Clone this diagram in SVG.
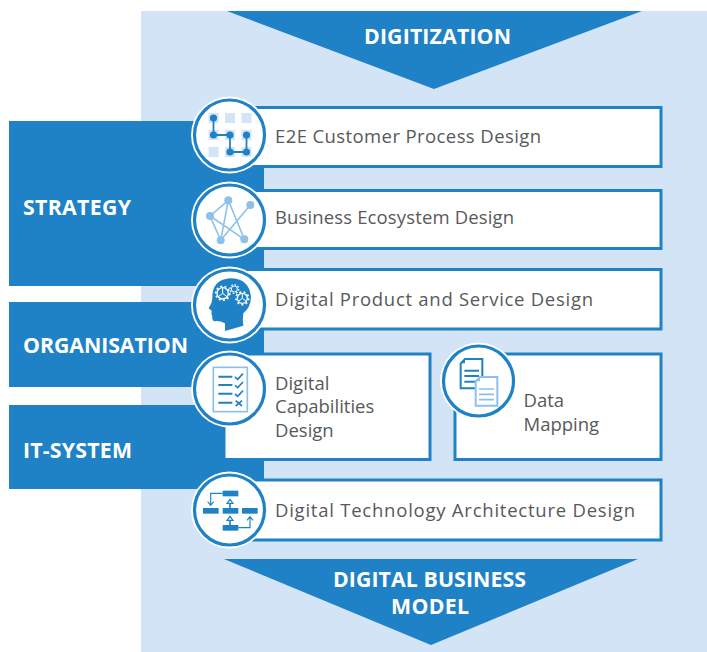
<svg xmlns="http://www.w3.org/2000/svg" width="707" height="652" viewBox="0 0 707 652">
<style>
.blue{fill:#1f81c6}
.card{fill:#fff;stroke:#1f81c6;stroke-width:3}
.halo{fill:#fff}
.ring{fill:#fff;stroke:#1f81c6;stroke-width:3.2}
.h{font-family:"Open Sans","Noto Sans","Liberation Sans",sans-serif;font-weight:700;font-size:21.3px;fill:#fff}
.t{font-family:"Open Sans","Noto Sans","Liberation Sans",sans-serif;font-size:18.5px;fill:#58595b}
.m{text-anchor:middle}
.sq{fill:#d3e4f6}
.lk{stroke:#8fc0e9;stroke-width:1.6;fill:none}
.pl{fill:#8fc0e9}
.ln{stroke:#1f81c6;stroke-width:6;fill:none}
.lnt{stroke:#1f81c6;stroke-width:5;fill:none}
.lnl{stroke:#8fc0e9;stroke-width:5;fill:none}
</style>
<rect id="background" x="141" y="11" width="566" height="641" fill="#d3e4f6"/>
<g id="strategy"><rect class="blue" x="9" y="121" width="255" height="165"/><text class="h" x="23" y="215" textLength="108">STRATEGY</text></g>
<g id="organisation"><rect class="blue" x="9" y="302" width="255" height="85"/><text class="h" x="23" y="353" textLength="165">ORGANISATION</text></g>
<g id="it-system"><rect class="blue" x="9" y="405" width="255" height="84"/><text class="h" x="23" y="458" textLength="109">IT-SYSTEM</text></g>
<g id="digitization"><polygon class="blue" points="227,11 642,11 434,89"/><text class="h" x="364" y="44" textLength="147">DIGITIZATION</text></g>
<g id="digital-business-model"><polygon class="blue" points="224,559 638,559 431,645"/><text class="h" x="333" y="587" textLength="193">DIGITAL BUSINESS</text><text class="h" x="391" y="614" textLength="78">MODEL</text></g>

<g id="e2e">
<rect class="card" x="228" y="107.500" width="433" height="59"/>
<text class="t" x="275" y="143" textLength="266">E2E Customer Process Design</text>
<circle class="halo" cx="229.500" cy="135" r="38.500"/><circle class="ring" cx="229.500" cy="135" r="35"/>
<g class="sq"><rect x="208.500" y="113" width="10" height="10"/><rect x="225" y="113" width="10" height="10"/><rect x="241.500" y="113" width="10" height="10"/><rect x="208.500" y="130" width="10" height="10"/><rect x="225" y="130" width="10" height="10"/><rect x="241.500" y="130" width="10" height="10"/><rect x="208.500" y="147" width="10" height="10"/><rect x="225" y="147" width="10" height="10"/><rect x="241.500" y="147" width="10" height="10"/></g>
<path d="M213.500 118V135H230V152H246.500V135" fill="none" stroke="#1f81c6" stroke-width="1.800"/>
<g class="blue"><circle cx="213.500" cy="118" r="3.600"/><circle cx="213.500" cy="135" r="3.600"/><circle cx="230" cy="135" r="3.600"/><circle cx="230" cy="152" r="3.600"/><circle cx="246.500" cy="152" r="3.600"/><circle cx="246.500" cy="135" r="3.600"/></g>
</g>

<g id="ecosystem">
<rect class="card" x="228" y="190.500" width="433" height="58"/>
<text class="t" x="275" y="224" textLength="239">Business Ecosystem Design</text>
<circle class="halo" cx="229.500" cy="220" r="38.500"/><circle class="ring" cx="229.500" cy="220" r="35"/>
<path class="lk" d="M210 216L228.300 200.300M210 216L220.700 240.300M210 216L244.300 239.300M228.300 200.300L220.700 240.300M228.300 200.300L244.300 239.300M250.300 205L220.700 240.300"/>
<g class="pl"><circle cx="210" cy="216" r="4"/><circle cx="228.300" cy="200.300" r="4"/><circle cx="250.300" cy="205" r="4"/><circle cx="220.700" cy="240.300" r="4"/><circle cx="244.300" cy="239.300" r="4"/></g>
</g>

<g id="product">
<rect class="card" x="228" y="269.500" width="433" height="59.500"/>
<text class="t" x="275" y="306" textLength="318">Digital Product and Service Design</text>
<circle class="halo" cx="229.500" cy="305" r="38.500"/><circle class="ring" cx="229.500" cy="305" r="35"/>
<g transform="translate(185 260) scale(.33333)">
<path class="blue" d="M120 213L120 190Q100 180 88 184Q80 180 82 170Q78 160 80 152L71 145Q82 130 82 115Q80 60 135 55Q195 55 198 115Q195 145 175 160Q172 180 175 197Z"/>
<g fill="none" stroke="#fff"><circle cx="113" cy="100" r="17" stroke-width="4"/><circle cx="113" cy="100" r="21" stroke-width="5" stroke-dasharray="6 7"/><path d="M113 100V84M113 100L100 110M113 100L126 110" stroke-width="3"/>
<circle cx="148" cy="87" r="9" stroke-width="3"/><circle cx="148" cy="87" r="13" stroke-width="4" stroke-dasharray="5 5"/>
<circle cx="172" cy="115" r="15" stroke-width="4"/><circle cx="172" cy="115" r="19" stroke-width="5" stroke-dasharray="6 7"/><path d="M172 115V101M172 115L160 124M172 115L184 124" stroke-width="3"/></g>
</g>
</g>

<g id="capabilities">
<rect class="card" x="224" y="354" width="206" height="105.500"/>
<text class="t"><tspan x="275" y="390">Digital</tspan><tspan x="275" y="413">Capabilities</tspan><tspan x="275" y="437">Design</tspan></text>
<circle class="halo" cx="229.500" cy="389" r="38.500"/><circle class="ring" cx="229.500" cy="389" r="35"/>
<g transform="translate(185 260) scale(.33333)">
<rect class="lnl" x="85" y="322" width="102" height="133"/>
<path class="ln" d="M100 350H142M100 375H142M100 401H142M100 428H142"/>
<path class="lnt" d="M150 351L158 358L174 341M150 376L158 383L174 366M150 402L158 409L174 392M152 422L171 438M171 422L152 438"/>
</g>
</g>

<g id="data-mapping">
<rect class="card" x="455" y="354" width="206" height="105.500"/>
<text class="t"><tspan x="523.500" y="407">Data</tspan><tspan x="523.500" y="431">Mapping</tspan></text>
<circle class="halo" cx="478.500" cy="381" r="38.500"/><circle class="ring" cx="478.500" cy="381" r="35"/>
<g transform="translate(425 335) scale(.33333)">
<path d="M120 72H172V160H107V85Z" fill="#fff" stroke="#1f81c6" stroke-width="6"/>
<path d="M107 85H120V72Z" class="blue"/>
<path class="ln" d="M118 107H162M118 123H162M118 140H162"/>
<path d="M165 126H217V212H152V139Z" fill="#fff" stroke="#8fc0e9" stroke-width="6"/>
<path d="M152 139H165V126Z" class="pl"/>
<path class="lnl" d="M162 162H207M162 178H207M162 194H207"/>
</g>
</g>

<g id="architecture">
<rect class="card" x="228" y="480" width="433" height="60"/>
<text class="t" x="275" y="517" textLength="360">Digital Technology Architecture Design</text>
<circle class="halo" cx="229.500" cy="510" r="38.500"/><circle class="ring" cx="229.500" cy="510" r="35"/>
<g transform="translate(185 460) scale(.33333)">
<g class="blue"><rect x="113" y="92" width="47" height="17"/><rect x="54" y="144" width="47" height="17"/><rect x="113" y="144" width="47" height="17"/><rect x="171" y="144" width="47" height="17"/><rect x="113" y="195" width="47" height="17"/></g>
<path d="M113 100H77V134M68 125L77 136L86 125M160 203H195V172M186 181L195 170L204 181" fill="none" stroke="#1f81c6" stroke-width="3.500"/>
<path d="M135 144V130M135 195V181" stroke="#1f81c6" stroke-width="5" fill="none"/>
<path d="M135 118L144 130H126ZM135 169L144 181H126Z" fill="#fff" stroke="#1f81c6" stroke-width="3.500"/>
</g>
</g>
</svg>
